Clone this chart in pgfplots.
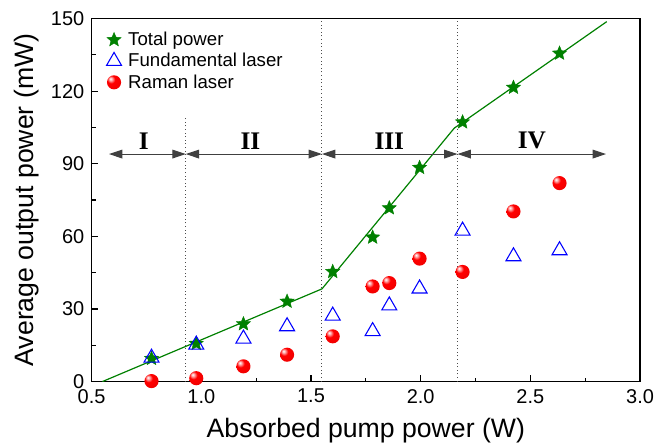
\documentclass[border=0pt]{standalone}
\usepackage{pgfplots}
\pgfplotsset{compat=1.18}
\usepackage{fontspec}
\setmainfont{Liberation Sans}
\newfontfamily\romanfont{Liberation Serif}
\usetikzlibrary{arrows.meta}

% filled five-pointed star
\pgfdeclareplotmark{fstar}{%
  \pgfpathmoveto{\pgfpointpolar{90}{\pgfplotmarksize}}%
  \pgfpathlineto{\pgfpointpolar{126}{0.45\pgfplotmarksize}}%
  \pgfpathlineto{\pgfpointpolar{162}{\pgfplotmarksize}}%
  \pgfpathlineto{\pgfpointpolar{198}{0.45\pgfplotmarksize}}%
  \pgfpathlineto{\pgfpointpolar{234}{\pgfplotmarksize}}%
  \pgfpathlineto{\pgfpointpolar{270}{0.45\pgfplotmarksize}}%
  \pgfpathlineto{\pgfpointpolar{306}{\pgfplotmarksize}}%
  \pgfpathlineto{\pgfpointpolar{342}{0.45\pgfplotmarksize}}%
  \pgfpathlineto{\pgfpointpolar{18}{\pgfplotmarksize}}%
  \pgfpathlineto{\pgfpointpolar{54}{0.45\pgfplotmarksize}}%
  \pgfpathclose
  \pgfusepathqfillstroke}

% glossy red sphere
\pgfdeclareradialshading{redball}{\pgfqpoint{-13bp}{13bp}}{%
  color(0bp)=(white); color(5bp)=(red!30!white); color(14bp)=(red);
  color(40bp)=(red!92!black); color(70bp)=(red!80!black)}
\pgfdeclareplotmark{rball}{%
  \pgfpathcircle{\pgfpointorigin}{\pgfplotmarksize}%
  \pgfshadepath{redball}{0}%
  \pgfusepath{discard}}

% measured data (read off the figure)
\pgfplotstableread{
x      total  fund   raman
0.773  9.5    9.8    0.2
0.977  15.7   15.2   1.4
1.192  23.8   17.7   6.3
1.391  33.1   22.8   11.1
1.599  45.4   27.2   18.7
1.781  59.6   20.8   39.3
1.857  71.7   31.4   40.7
1.995  88.4   38.4   50.8
2.191  107.2  62.3   45.3
2.423  121.5  51.7   70.3
2.633  135.6  54.2   82.0
}\datatable

\begin{document}
\begin{tikzpicture}
\begin{axis}[
    name=ax,
    scale only axis,
    width=411.75pt, height=272.6pt,
    xmin=0.5, xmax=3.0,
    ymin=0, ymax=150,
    xtick={0.5,1.0,...,3.0},
    ytick={0,30,...,150},
    minor x tick num=1,
    minor y tick num=1,
    xtick pos=bottom, ytick pos=left,
    tick align=inside,
    major tick length=5pt,
    minor tick length=3pt,
    axis line style={line width=1.1pt},
    every tick/.style={black, line width=0.9pt},
    /pgf/number format/assume math mode=true,
    /pgf/number format/fixed,
    /pgf/number format/fixed zerofill,
    xticklabel style={/pgf/number format/precision=1, yshift=-2.2pt},
    yticklabel style={/pgf/number format/precision=0, /pgf/number format/fixed zerofill=false, xshift=-2pt},
    ticklabel style={font=\fontsize{15}{18}\selectfont},
    xlabel={Absorbed pump power (W)},
    ylabel={Average output power (mW)},
    label style={font=\fontsize{20}{24}\selectfont},
    xlabel style={at={([yshift=-36.75pt]axis description cs:0.5,0)}, anchor=center},
    ylabel style={at={([xshift=-49pt]axis description cs:0,0.5)}, anchor=center},
    legend cell align=left,
    legend style={draw=none, fill=none,
        at={([xshift=8pt,yshift=-6pt]axis description cs:0,1)}, anchor=north west,
        font=\fontsize{14}{16}\selectfont,
        row sep=0.3pt,
        nodes={inner xsep=5pt}},
]

% fitted piecewise line
\addplot[forget plot, color=green!50!black, line width=0.9pt] coordinates {
    (0.549,0) (1.55,38.3) (2.153,104.7) (2.848,148.7)
};

\addplot[only marks, mark=fstar, mark size=5.6pt,
    mark options={fill=green!50!black, draw=green!50!black, line width=0.3pt}]
    table[x=x, y=total] {\datatable};
\addlegendentry{Total power}

\addplot[only marks, mark=triangle, mark size=6.5pt,
    mark options={draw=blue, line width=0.8pt}]
    table[x=x, y=fund] {\datatable};
\addlegendentry{Fundamental laser}

\addplot[only marks, mark=rball, mark size=5.3pt]
    table[x=x, y=raman] {\datatable};
\addlegendentry{Raman laser}

% region boundaries
\draw[dotted, line width=0.7pt, black!70] (axis cs:0.929,0) -- (axis cs:0.929,109.5);
\draw[dotted, line width=0.7pt, black!70] (axis cs:1.55,0) -- (axis cs:1.55,150);
\draw[dotted, line width=0.7pt, black!70] (axis cs:2.168,0) -- (axis cs:2.168,150);

% region arrows
\tikzset{reg/.style={{Triangle[length=10pt,width=6.5pt]}-{Triangle[length=10pt,width=6.5pt]}, line width=0.8pt, black!75}}
\draw[reg] (axis cs:0.579,94) -- (axis cs:0.929,94);
\draw[reg] (axis cs:0.929,94) -- (axis cs:1.55,94);
\draw[reg] (axis cs:1.55,94) -- (axis cs:2.168,94);
\draw[reg] (axis cs:2.168,94) -- (axis cs:2.845,94);

\node[font=\romanfont\bfseries\fontsize{19}{22}\selectfont] at (axis cs:0.738,99.5) {I};
\node[font=\romanfont\bfseries\fontsize{19}{22}\selectfont] at (axis cs:1.224,99.5) {II};
\node[font=\romanfont\bfseries\fontsize{19}{22}\selectfont] at (axis cs:1.857,99.5) {III};
\node[font=\romanfont\bfseries\fontsize{19}{22}\selectfont] at (axis cs:2.507,99.5) {IV};
\end{axis}
\pgfresetboundingbox
\path ([shift={(-68.8pt,-48.75pt)}]ax.south west) rectangle ([shift={(21.75pt,13.9pt)}]ax.north east);
\end{tikzpicture}
\end{document}
